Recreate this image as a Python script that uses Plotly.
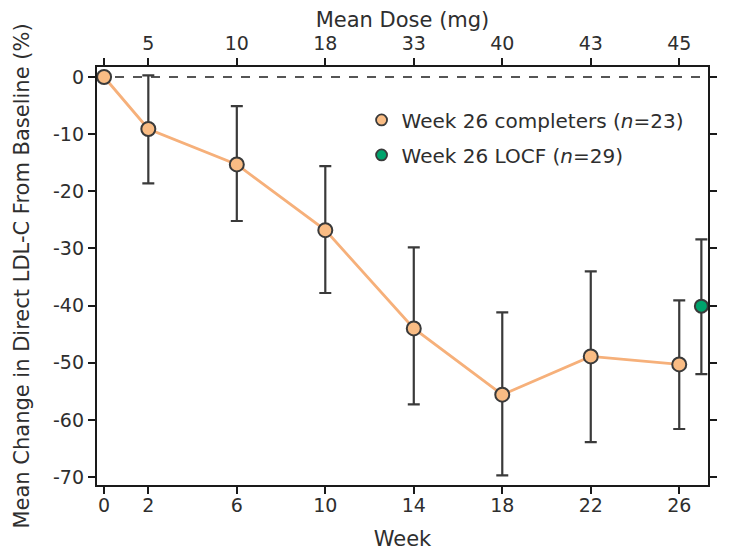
import plotly.graph_objects as go

weeks = [0, 2, 6, 10, 14, 18, 22, 26]
mean_change = [0, -9.1, -15.3, -26.8, -44.0, -55.6, -48.9, -50.3]
err_plus = [0, 9.4, 10.2, 11.2, 14.2, 14.4, 14.9, 11.2]
err_minus = [0, 9.5, 9.9, 11.0, 13.3, 14.1, 15.0, 11.3]

locf_week = [27]
locf_mean = [-40.1]
locf_err_plus = [11.7]
locf_err_minus = [11.9]

dose_ticks = ["", "5", "10", "18", "33", "40", "43", "45"]
y_ticks = [0, -10, -20, -30, -40, -50, -60, -70]

FONT = "DejaVu Sans, Liberation Sans, Arial, sans-serif"
TXT = "#2e2e2e"
ORANGE_FILL = "#F9BC84"
ORANGE_LINE = "#F6B07A"
GREEN = "#00A36C"
EDGE = "#3a3a3a"

fig = go.Figure()

fig.add_trace(go.Scatter(
    x=weeks, y=mean_change, mode="lines+markers",
    line=dict(color=ORANGE_LINE, width=2.8),
    marker=dict(size=14, color=ORANGE_FILL, line=dict(color=EDGE, width=2)),
    error_y=dict(type="data", array=err_plus, arrayminus=err_minus,
                 color=EDGE, thickness=2.2, width=6),
    showlegend=False,
))
fig.add_trace(go.Scatter(
    x=locf_week, y=locf_mean, mode="markers",
    marker=dict(size=13, color=GREEN, line=dict(color=EDGE, width=2)),
    error_y=dict(type="data", array=locf_err_plus, arrayminus=locf_err_minus,
                 color=EDGE, thickness=2.2, width=6),
    showlegend=False,
))
# legend entries
fig.add_trace(go.Scatter(
    x=[None], y=[None], mode="markers", name="Week 26 completers (<i>n</i>=23)",
    legendgroup="a",
    marker=dict(size=11, color=ORANGE_FILL, line=dict(color=EDGE, width=1.8)),
))
fig.add_trace(go.Scatter(
    x=[None], y=[None], mode="markers", name="Week 26 LOCF (<i>n</i>=29)",
    legendgroup="b",
    marker=dict(size=11, color=GREEN, line=dict(color=EDGE, width=1.8)),
))
# dummy trace to activate secondary axes
fig.add_trace(go.Scatter(x=[None], y=[None], xaxis="x2", yaxis="y2", showlegend=False))

xr = [-0.32, 27.3]
yr = [-71.4, 1.75]

fig.add_shape(type="line", xref="paper", yref="y", x0=0, x1=1, y0=0, y1=0,
              line=dict(color="#555555", width=1.8, dash="dash"), layer="below")

axis_common = dict(showline=True, linecolor="#1a1a1a", linewidth=2.4, ticks="outside",
                   ticklen=7, tickwidth=2.4, tickcolor="#1a1a1a", showgrid=False,
                   zeroline=False, automargin=False,
                   tickfont=dict(family=FONT, size=19, color=TXT))

title_font = dict(family=FONT, size=21, color=TXT)

fig.update_layout(
    width=735, height=551,
    margin=dict(l=89, r=35, t=59, b=74),
    paper_bgcolor="white", plot_bgcolor="white",
    font=dict(family=FONT, color=TXT),
    xaxis=dict(range=xr, tickvals=weeks, ticktext=[str(w) for w in weeks],
               ticklabelstandoff=-5,
               title=dict(text="Week", font=title_font, standoff=16),
               **axis_common),
    xaxis2=dict(range=xr, overlaying="x", side="top", tickvals=weeks, ticktext=dose_ticks,
                title=dict(text="Mean Dose (mg)", font=title_font, standoff=4),
                **axis_common),
    yaxis=dict(range=yr, tickvals=y_ticks, ticktext=[str(v) for v in y_ticks],
               title=dict(text="Mean Change in Direct LDL-C From Baseline (%)",
                          font=title_font, standoff=18),
               **axis_common),
    yaxis2=dict(range=yr, overlaying="y", side="right", tickvals=y_ticks, showticklabels=False,
                **axis_common),
    legend=dict(x=0.433, y=0.92, xanchor="left", yanchor="top", bgcolor="rgba(0,0,0,0)",
                font=dict(family=FONT, size=20, color=TXT), itemsizing="trace",
                tracegroupgap=6),
)

fig.write_html("out.html")
